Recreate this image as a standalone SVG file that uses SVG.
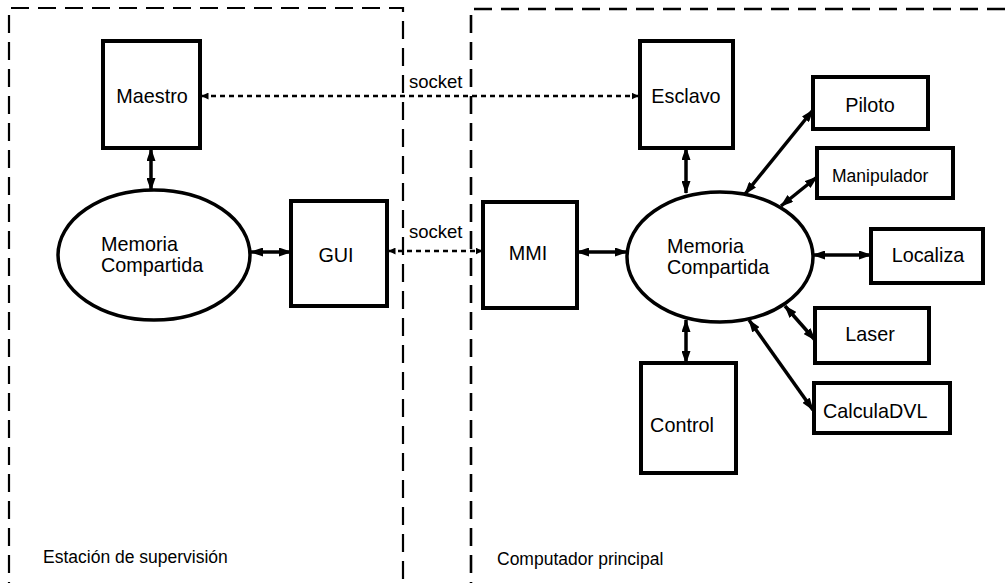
<svg xmlns="http://www.w3.org/2000/svg" width="1006" height="583" viewBox="0 0 1006 583">
  <defs>
    <style>
      .zone { fill: none; stroke: #000; stroke-width: 2.2; stroke-dasharray: 18 9; }
      .box { fill: #fff; stroke: #000; stroke-width: 4; }
      .mem { fill: #fff; stroke: #000; stroke-width: 3.5; }
      .lbl { font-family: "Liberation Sans", Arial, Helvetica, sans-serif; font-size: 19.8px; fill: #000; }
      .sm { font-size: 17.5px; }
      .link { stroke: #000; stroke-width: 3.5; fill: none; marker-start: url(#head); marker-end: url(#head); }
      .sock { stroke: #000; stroke-width: 2.5; fill: none; stroke-dasharray: 5 4; marker-start: url(#tip); marker-end: url(#tip); }
    </style>
    <marker id="head" viewBox="0 0 13 9" refX="12" refY="4.5" markerWidth="13" markerHeight="9" markerUnits="userSpaceOnUse" orient="auto-start-reverse">
      <path d="M0,0 L13,4.5 L0,9 Z" fill="#000"/>
    </marker>
    <marker id="tip" viewBox="0 0 7 7" refX="6.5" refY="3.5" markerWidth="7" markerHeight="7" markerUnits="userSpaceOnUse" orient="auto-start-reverse">
      <path d="M0,0 L7,3.5 L0,7 Z" fill="#000"/>
    </marker>
  </defs>

  <rect width="1006" height="583" fill="#fff"/>

  <!-- Zones -->
  <g id="zona-supervision">
    <path class="zone" d="M9,600 L9,8 L403,8 L403,600"/>
    <text class="lbl sm" x="43" y="563">Estación de supervisión</text>
  </g>
  <g id="zona-principal">
    <path class="zone" d="M471,600 L471,9 L1020,9" style="stroke-width:2.6"/>
    <text class="lbl sm" x="497" y="565">Computador principal</text>
  </g>

  <!-- Connectors -->
  <g id="connectors">
    <line class="link" x1="151" y1="149" x2="151" y2="190"/>
    <line class="link" x1="251" y1="252" x2="291" y2="252"/>
    <line class="link" x1="686" y1="148" x2="686" y2="193"/>
    <line class="link" x1="577" y1="252" x2="627" y2="252"/>
    <line class="link" x1="745" y1="194" x2="813" y2="110"/>
    <line class="link" x1="781" y1="206" x2="817" y2="177"/>
    <line class="link" x1="813" y1="255" x2="871" y2="255"/>
    <line class="link" x1="785" y1="306" x2="815" y2="340"/>
    <line class="link" x1="749" y1="320" x2="813" y2="410"/>
    <line class="link" x1="686" y1="320" x2="686" y2="363"/>
    <line class="sock" x1="202" y1="96" x2="638" y2="96"/>
    <line class="sock" x1="389" y1="251" x2="482" y2="251"/>
    <text class="lbl" x="409" y="88" style="font-size:18.5px">socket</text>
    <text class="lbl" x="409" y="238" style="font-size:18.5px">socket</text>
  </g>

  <!-- Supervision station -->
  <g id="maestro">
    <rect class="box" x="103" y="41" width="97" height="107"/>
    <text class="lbl" x="152" y="103" text-anchor="middle">Maestro</text>
  </g>
  <g id="memoria-supervision">
    <ellipse class="mem" cx="154" cy="255" rx="96" ry="65"/>
    <text class="lbl" x="101" y="251">Memoria</text>
    <text class="lbl" x="101" y="272">Compartida</text>
  </g>
  <g id="gui">
    <rect class="box" x="291" y="201" width="96" height="105"/>
    <text class="lbl" x="336" y="262" text-anchor="middle">GUI</text>
  </g>

  <!-- Main computer -->
  <g id="esclavo">
    <rect class="box" x="640" y="41" width="93" height="107"/>
    <text class="lbl" x="686" y="103" text-anchor="middle">Esclavo</text>
  </g>
  <g id="mmi">
    <rect class="box" x="483" y="202" width="94" height="106"/>
    <text class="lbl" x="528" y="260" text-anchor="middle">MMI</text>
  </g>
  <g id="memoria-principal">
    <ellipse class="mem" cx="720" cy="257" rx="93" ry="65"/>
    <text class="lbl" x="667" y="253">Memoria</text>
    <text class="lbl" x="667" y="274">Compartida</text>
  </g>
  <g id="piloto">
    <rect class="box" x="813" y="77" width="115" height="52"/>
    <text class="lbl" x="870" y="112" text-anchor="middle">Piloto</text>
  </g>
  <g id="manipulador">
    <rect class="box" x="817" y="148" width="136" height="50"/>
    <text class="lbl sm" x="832" y="182">Manipulador</text>
  </g>
  <g id="localiza">
    <rect class="box" x="871" y="229" width="112" height="54"/>
    <text class="lbl" x="928" y="262" text-anchor="middle">Localiza</text>
  </g>
  <g id="laser">
    <rect class="box" x="815" y="308" width="114" height="55"/>
    <text class="lbl" x="870" y="341" text-anchor="middle">Laser</text>
  </g>
  <g id="calculadvl">
    <rect class="box" x="814" y="383" width="136" height="50"/>
    <text class="lbl" x="823" y="418">CalculaDVL</text>
  </g>
  <g id="control">
    <rect class="box" x="641" y="363" width="95" height="110"/>
    <text class="lbl" x="682" y="432" text-anchor="middle">Control</text>
  </g>
</svg>
